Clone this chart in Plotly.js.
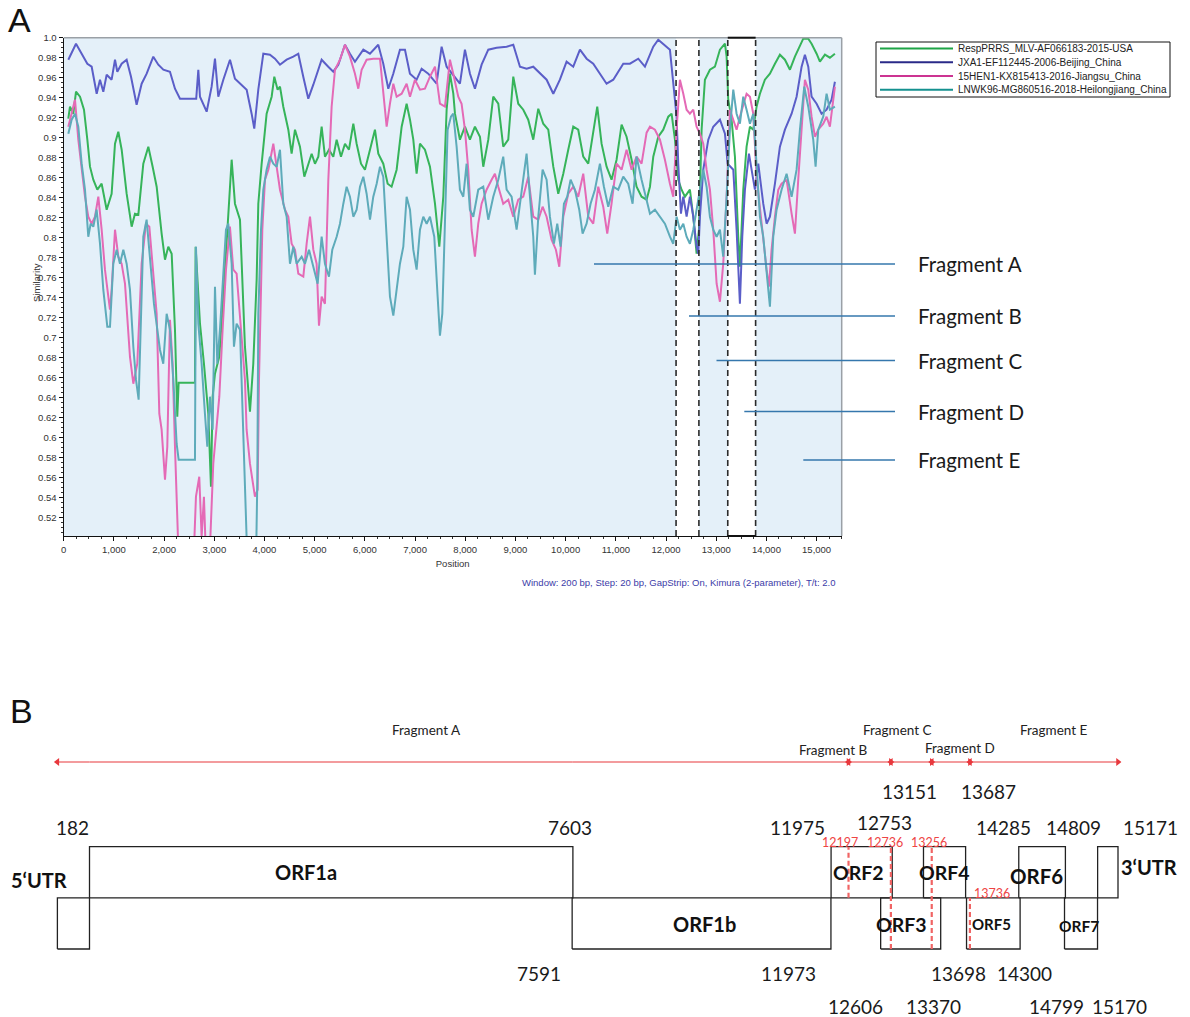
<!DOCTYPE html>
<html><head><meta charset="utf-8">
<script src="https://cdn.plot.ly/plotly-3.0.1.min.js"></script>
<style>html,body{margin:0;padding:0;background:#fff}#chart{width:1190px;height:1017px}</style>
</head><body><div id="chart"></div>
<script>
// ================= DATA =================
const seriesNames = ['RespPRRS_MLV-AF066183-2015-USA','JXA1-EF112445-2006-Beijing_China','15HEN1-KX815413-2016-Jiangsu_China','LNWK96-MG860516-2018-Heilongjiang_China'];

const respPos = [92,125,192,245,325,404,471,524,590,670,756,823,856,955,1022,1088,1155,1254,1354,1420,1487,1586,1686,1772,1852,1951,2018,2084,2151,2217,2237,2263,2290,2615,2628,2715,2794,2881,2934,2967,3014,3100,3180,3279,3346,3412,3512,3611,3711,3777,3844,3877,3944,4043,4143,4196,4262,4309,4375,4475,4541,4608,4707,4794,4873,4940,5006,5073,5139,5205,5285,5371,5438,5524,5604,5683,5770,5836,5923,6002,6102,6201,6268,6367,6454,6533,6633,6733,6832,6899,6965,7031,7098,7197,7297,7397,7483,7563,7629,7695,7762,7795,7894,7994,8093,8193,8293,8359,8459,8558,8658,8757,8857,8957,9056,9156,9255,9355,9455,9554,9654,9754,9853,9953,10052,10152,10251,10351,10451,10550,10630,10716,10816,10915,11015,11115,11214,11314,11413,11513,11613,11680,11746,11846,11945,12045,12111,12178,12244,12310,12377,12476,12543,12609,12656,12709,12775,12875,12974,13074,13174,13207,13240,13306,13373,13439,13472,13539,13605,13672,13738,13804,13871,13970,14070,14170,14269,14369,14469,14568,14668,14734,14834,14900,15000,15066,15166,15265,15365];
const respSim = [0.919,0.931,0.924,0.946,0.941,0.928,0.898,0.871,0.858,0.848,0.854,0.838,0.828,0.844,0.894,0.906,0.888,0.844,0.811,0.824,0.823,0.874,0.891,0.871,0.851,0.804,0.778,0.791,0.784,0.708,0.674,0.621,0.655,0.655,0.791,0.714,0.674,0.624,0.551,0.641,0.664,0.681,0.741,0.821,0.878,0.834,0.818,0.691,0.626,0.674,0.758,0.834,0.874,0.924,0.941,0.961,0.948,0.951,0.931,0.908,0.884,0.908,0.891,0.861,0.874,0.884,0.874,0.881,0.911,0.881,0.888,0.881,0.898,0.881,0.894,0.888,0.914,0.894,0.874,0.868,0.888,0.908,0.884,0.874,0.854,0.851,0.868,0.911,0.934,0.918,0.898,0.864,0.894,0.888,0.871,0.834,0.791,0.841,0.928,0.964,0.944,0.924,0.898,0.911,0.898,0.911,0.901,0.871,0.898,0.941,0.934,0.891,0.898,0.961,0.934,0.928,0.918,0.898,0.929,0.914,0.908,0.871,0.844,0.864,0.888,0.911,0.908,0.881,0.874,0.908,0.931,0.894,0.871,0.858,0.878,0.913,0.901,0.878,0.851,0.841,0.838,0.851,0.881,0.901,0.908,0.921,0.924,0.898,0.858,0.848,0.841,0.848,0.821,0.784,0.808,0.908,0.958,0.968,0.971,0.988,0.994,0.981,0.938,0.918,0.881,0.801,0.771,0.848,0.891,0.911,0.908,0.931,0.944,0.958,0.964,0.974,0.983,0.978,0.968,0.981,0.991,0.999,0.999,0.994,0.984,0.976,0.983,0.980,0.984];

const jxaPos = [92,245,358,471,557,657,723,789,856,955,1022,1068,1155,1254,1341,1453,1553,1653,1785,1885,1985,2117,2217,2317,2449,2640,2682,2715,2848,2947,3014,3080,3180,3313,3412,3512,3645,3744,3797,3877,3977,4109,4209,4309,4441,4574,4674,4773,4873,4973,5139,5271,5371,5471,5603,5703,5803,5969,6101,6267,6367,6467,6566,6699,6799,6898,7031,7131,7263,7429,7529,7629,7761,7894,7994,8094,8193,8326,8459,8625,8824,8957,9090,9222,9355,9488,9621,9754,9886,10019,10152,10285,10418,10550,10683,10816,10949,11148,11281,11447,11580,11746,11845,11945,12078,12177,12211,12244,12297,12344,12410,12476,12543,12609,12642,12676,12742,12842,12941,13074,13174,13227,13340,13406,13472,13519,13572,13652,13705,13771,13838,13937,14004,14070,14170,14269,14369,14502,14601,14701,14767,14834,14900,15000,15099,15199,15298,15365];
const jxaSim = [0.978,0.994,0.984,0.974,0.971,0.944,0.958,0.946,0.963,0.958,0.978,0.966,0.974,0.978,0.961,0.933,0.954,0.964,0.981,0.973,0.968,0.966,0.949,0.939,0.939,0.939,0.968,0.941,0.926,0.951,0.979,0.941,0.958,0.978,0.959,0.954,0.948,0.924,0.909,0.948,0.984,0.983,0.979,0.973,0.978,0.981,0.984,0.961,0.939,0.953,0.978,0.971,0.966,0.973,0.993,0.984,0.976,0.988,0.984,0.993,0.974,0.949,0.964,0.988,0.988,0.964,0.958,0.969,0.964,0.954,0.991,0.971,0.963,0.954,0.988,0.964,0.949,0.973,0.988,0.990,0.991,0.993,0.971,0.969,0.971,0.964,0.958,0.944,0.958,0.976,0.971,0.988,0.979,0.974,0.964,0.954,0.958,0.974,0.974,0.979,0.971,0.991,0.998,0.994,0.988,0.938,0.921,0.874,0.824,0.841,0.821,0.841,0.821,0.791,0.784,0.821,0.868,0.898,0.911,0.918,0.904,0.874,0.868,0.808,0.734,0.801,0.848,0.884,0.868,0.848,0.874,0.834,0.814,0.821,0.854,0.891,0.908,0.924,0.941,0.971,0.983,0.971,0.941,0.934,0.924,0.928,0.938,0.956];

const henPos = [92,158,225,291,358,424,490,557,623,690,756,822,889,922,955,1022,1088,1154,1221,1267,1320,1387,1466,1553,1639,1706,1772,1852,1905,1951,2018,2064,2117,2170,2217,2283,2383,2582,2635,2701,2748,2794,2834,2914,2980,3034,3100,3166,3233,3312,3379,3445,3512,3565,3611,3644,3711,3810,3864,3891,3931,3957,4010,4077,4176,4243,4309,4409,4475,4541,4608,4674,4774,4840,4907,4973,5039,5086,5139,5205,5239,5272,5338,5405,5504,5604,5703,5803,5869,5936,6035,6168,6301,6367,6434,6500,6567,6633,6733,6832,6899,6998,7098,7197,7297,7397,7496,7596,7695,7761,7861,7927,7994,8060,8127,8193,8259,8326,8425,8525,8591,8658,8757,8857,8957,9056,9156,9255,9355,9455,9541,9621,9720,9806,9873,9953,10052,10152,10251,10351,10451,10550,10650,10749,10829,10915,11015,11115,11214,11314,11413,11513,11613,11680,11779,11879,11978,12078,12144,12211,12277,12344,12410,12476,12543,12609,12676,12742,12808,12875,12941,13008,13074,13140,13207,13273,13340,13406,13472,13539,13605,13672,13738,13804,13871,13937,14004,14050,14103,14170,14236,14302,14402,14502,14568,14634,14701,14767,14834,14900,14967,15033,15132,15199,15265,15332,15365];
const henSim = [0.911,0.924,0.938,0.898,0.868,0.841,0.821,0.814,0.821,0.841,0.808,0.768,0.741,0.728,0.748,0.808,0.781,0.774,0.754,0.721,0.681,0.654,0.674,0.774,0.814,0.811,0.774,0.724,0.624,0.608,0.558,0.591,0.718,0.674,0.591,0.490,0.470,0.470,0.541,0.561,0.501,0.541,0.480,0.490,0.574,0.601,0.641,0.708,0.768,0.811,0.768,0.764,0.724,0.691,0.658,0.608,0.574,0.541,0.548,0.658,0.741,0.808,0.858,0.868,0.894,0.868,0.848,0.828,0.821,0.794,0.788,0.764,0.761,0.794,0.821,0.788,0.774,0.712,0.741,0.734,0.794,0.858,0.931,0.968,0.978,0.993,0.981,0.964,0.949,0.968,0.978,0.979,0.979,0.948,0.911,0.934,0.954,0.941,0.944,0.954,0.941,0.958,0.948,0.949,0.961,0.971,0.934,0.931,0.978,0.964,0.941,0.934,0.908,0.868,0.808,0.781,0.814,0.834,0.848,0.858,0.864,0.851,0.834,0.838,0.821,0.838,0.841,0.861,0.821,0.818,0.831,0.821,0.798,0.788,0.771,0.821,0.844,0.851,0.841,0.864,0.821,0.814,0.851,0.831,0.804,0.834,0.874,0.868,0.888,0.868,0.881,0.874,0.905,0.911,0.908,0.898,0.878,0.854,0.841,0.908,0.958,0.944,0.928,0.924,0.928,0.911,0.904,0.894,0.868,0.848,0.808,0.754,0.736,0.774,0.841,0.928,0.918,0.908,0.921,0.934,0.944,0.941,0.924,0.861,0.828,0.794,0.768,0.751,0.788,0.821,0.848,0.854,0.858,0.824,0.804,0.858,0.908,0.958,0.948,0.921,0.901,0.908,0.914,0.921,0.911,0.941,0.951];

const lnwPos = [92,158,225,291,358,424,490,537,590,656,723,789,869,922,988,1055,1121,1188,1254,1320,1387,1440,1493,1533,1586,1652,1732,1798,1865,1918,1984,2051,2117,2184,2250,2290,2615,2635,2682,2748,2814,2861,2914,2967,3014,3060,3113,3180,3233,3279,3346,3392,3445,3512,3565,3611,3644,3700,3830,3857,3877,3931,3977,4043,4110,4176,4243,4309,4375,4442,4508,4575,4641,4741,4807,4887,4973,5059,5139,5205,5285,5351,5438,5504,5571,5637,5703,5770,5836,5903,5969,6035,6102,6168,6235,6301,6367,6434,6500,6567,6633,6699,6766,6832,6899,6965,7031,7098,7164,7231,7297,7383,7450,7496,7543,7596,7649,7715,7761,7828,7894,7961,8027,8093,8160,8259,8359,8459,8558,8658,8757,8824,8923,9023,9123,9222,9289,9355,9388,9455,9541,9621,9687,9767,9833,9899,9966,10032,10099,10185,10271,10338,10417,10497,10583,10683,10763,10849,10948,11048,11148,11247,11334,11413,11513,11613,11680,11779,11879,11978,12078,12144,12211,12277,12344,12410,12476,12543,12609,12676,12742,12808,12875,12941,13008,13074,13140,13207,13273,13340,13406,13472,13539,13605,13672,13738,13804,13871,13937,14004,14070,14136,14203,14302,14402,14502,14601,14668,14754,14834,14933,14980,15033,15132,15199,15265,15365];
const lnwSim = [0.904,0.918,0.924,0.911,0.874,0.848,0.801,0.814,0.811,0.828,0.794,0.748,0.711,0.711,0.774,0.788,0.774,0.788,0.774,0.748,0.691,0.658,0.638,0.708,0.801,0.818,0.774,0.734,0.708,0.688,0.674,0.724,0.708,0.658,0.594,0.578,0.578,0.791,0.714,0.674,0.624,0.591,0.641,0.608,0.751,0.674,0.708,0.758,0.808,0.814,0.774,0.691,0.714,0.708,0.621,0.558,0.500,0.470,0.470,0.556,0.724,0.808,0.848,0.868,0.881,0.874,0.871,0.888,0.834,0.821,0.774,0.791,0.774,0.781,0.774,0.788,0.771,0.754,0.801,0.774,0.761,0.788,0.801,0.814,0.834,0.851,0.841,0.821,0.828,0.851,0.861,0.844,0.818,0.841,0.854,0.871,0.861,0.794,0.741,0.722,0.751,0.774,0.791,0.841,0.828,0.788,0.768,0.808,0.821,0.814,0.821,0.801,0.741,0.702,0.724,0.808,0.908,0.921,0.924,0.891,0.848,0.841,0.874,0.828,0.821,0.848,0.851,0.818,0.841,0.858,0.881,0.848,0.841,0.808,0.848,0.884,0.841,0.801,0.763,0.821,0.868,0.858,0.821,0.794,0.814,0.791,0.834,0.841,0.858,0.848,0.828,0.804,0.814,0.834,0.848,0.874,0.851,0.831,0.851,0.848,0.861,0.854,0.834,0.881,0.858,0.838,0.824,0.828,0.821,0.814,0.801,0.794,0.821,0.808,0.814,0.801,0.794,0.808,0.828,0.848,0.868,0.851,0.821,0.808,0.801,0.808,0.781,0.841,0.908,0.948,0.924,0.914,0.941,0.928,0.914,0.924,0.868,0.821,0.801,0.768,0.731,0.801,0.828,0.848,0.864,0.841,0.868,0.908,0.951,0.931,0.898,0.871,0.908,0.921,0.944,0.928,0.931];

const xTickVals = [0,1000,2000,3000,4000,5000,6000,7000,8000,9000,10000,11000,12000,13000,14000,15000];
const yTickVals = [0.52,0.54,0.56,0.58,0.60,0.62,0.64,0.66,0.68,0.70,0.72,0.74,0.76,0.78,0.80,0.82,0.84,0.86,0.88,0.90,0.92,0.94,0.96,0.98,1.0];
const yTickText = ['0.52','0.54','0.56','0.58','0.6','0.62','0.64','0.66','0.68','0.7','0.72','0.74','0.76','0.78','0.8','0.82','0.84','0.86','0.88','0.9','0.92','0.94','0.96','0.98','1.0'];
const statsText = 'Window: 200 bp, Step: 20 bp, GapStrip: On, Kimura (2-parameter), T/t: 2.0';

// highlighted windows in panel A (positions, bp)
const highlightStart = [12200, 13230];
const highlightEnd   = [12655, 13785];

// genome map (panel B)
const genomeEnd = 15400;
const orfNames = ['ORF1a','ORF1b','ORF2','ORF3','ORF4','ORF5','ORF6','ORF7'];
const orfStart = [182, 7591, 11975, 12606, 13151, 13698, 14285, 14799];
const orfEnd   = [7603, 11973, 12753, 13370, 13687, 14300, 14809, 15170];
const orfRow   = [1, 0, 1, 0, 1, 0, 1, 0];
const utrNames = ['5‘UTR', '3‘UTR'];
const utrStart = [1, 15171];
const utrEnd   = [182, genomeEnd];
const utrRow   = [0, 1];
const fragmentNames = ['Fragment A','Fragment B','Fragment C','Fragment D','Fragment E'];
const fragmentStart = [1, 12197, 12736, 13256, 13736];
const fragmentEnd   = [12197, 12736, 13256, 13736, genomeEnd];
const breakpoints   = [12197, 12736, 13256, 13736];

// ================= STYLE / LAYOUT =================
const W = 1190, H = 1017;
const X = p => p / W, Y = p => 1 - p / H;
const AR = '"Liberation Sans", Arial, sans-serif';
const CAL = 'Lato, "Open Sans", sans-serif';
const lineColors   = ['#36b45a', '#5b5ec8', '#e46ab6', '#5eabba'];
const legendColors = ['#1ea447', '#2a2a88', '#cc3492', '#14918f'];
const highlightClosed = [false, true];

const posArr = [respPos, jxaPos, henPos, lnwPos];
const simArr = [respSim, jxaSim, henSim, lnwSim];

const traces = [];
const shapes = [];
const annotations = [];

seriesNames.forEach((n, i) => {
  traces.push({type:'scatter', mode:'lines', name:n, x:posArr[i], y:simArr[i],
    xaxis:'x', yaxis:'y', line:{color:lineColors[i], width:2}, hoverinfo:'skip', showlegend:false});
});

// panel A background and windows
shapes.push({type:'rect', xref:'x domain', yref:'y domain', x0:0, x1:1, y0:0, y1:1, fillcolor:'#e4f0f9', line:{width:0}, layer:'below'});
highlightStart.forEach((s, i) => {
  shapes.push({type:'rect', xref:'x', yref:'y domain', x0:s, x1:highlightEnd[i], y0:0, y1:1, fillcolor:'#ffffff', line:{width:0}, layer:'below'});
});
shapes.push({type:'line', xref:'x domain', yref:'y domain', x0:0, x1:1, y0:1, y1:1, line:{color:'#9aa0a6', width:1.5}});
shapes.push({type:'line', xref:'x domain', yref:'y domain', x0:1, x1:1, y0:0, y1:1, line:{color:'#9aa0a6', width:1.5}});
highlightStart.forEach((s, i) => {
  [s, highlightEnd[i]].forEach(v => shapes.push({type:'line', xref:'x', yref:'y domain', x0:v, x1:v, y0:0, y1:1,
    line:{color:'#2a2a2a', width:1.6, dash:'6px,4px'}}));
  if (highlightClosed[i]) {
    [0, 1].forEach(v => shapes.push({type:'line', xref:'x', yref:'y domain', x0:s, x1:highlightEnd[i], y0:v, y1:v,
      line:{color:'#111', width:2}}));
  }
});

// fragment leaders (panel A)
const leaderStartPx = [594, 689, 716.5, 744.3, 803.3];
const leaderYPx     = [264, 316, 360.5, 411.5, 460];
fragmentNames.forEach((n, i) => {
  shapes.push({type:'line', xref:'paper', yref:'paper', x0:X(leaderStartPx[i]), x1:X(895), y0:Y(leaderYPx[i]), y1:Y(leaderYPx[i]),
    line:{color:'#3577ad', width:1.3}});
  annotations.push({xref:'paper', yref:'paper', x:X(916), y:Y(leaderYPx[i]), xanchor:'left', yanchor:'middle', showarrow:false,
    text:n, font:{family:CAL, size:20.5, color:'#1a1a1a'}});
});

// custom legend
shapes.push({type:'rect', xref:'paper', yref:'paper', x0:X(876), x1:X(1170), y0:Y(97), y1:Y(42), line:{color:'#111', width:1}, fillcolor:'rgba(255,255,255,0)'});
seriesNames.forEach((n, i) => {
  const yy = 48.6 + i * 13.7;
  shapes.push({type:'line', xref:'paper', yref:'paper', x0:X(880), x1:X(953), y0:Y(yy), y1:Y(yy), line:{color:legendColors[i], width:2}});
  annotations.push({xref:'paper', yref:'paper', x:X(956), y:Y(yy), xanchor:'left', yanchor:'middle', showarrow:false,
    text:n, font:{family:AR, size:10, color:'#222'}});
});

// panel A titles
annotations.push({xref:'paper', yref:'paper', x:X(36), y:Y(283), textangle:-90, showarrow:false, text:'Similarity',
  font:{family:AR, size:9.5, color:'#333'}, xanchor:'center', yanchor:'middle'});
annotations.push({xref:'paper', yref:'paper', x:X(837), y:Y(582), xanchor:'right', yanchor:'middle', showarrow:false, text:statsText,
  font:{family:AR, size:9.5, color:'#3c3ca8'}});
annotations.push({xref:'paper', yref:'paper', x:X(6), y:Y(20), xanchor:'left', yanchor:'middle', showarrow:false, text:'A',
  font:{family:AR, size:34, color:'#111'}});
annotations.push({xref:'paper', yref:'paper', x:X(8), y:Y(711), xanchor:'left', yanchor:'middle', showarrow:false, text:'B',
  font:{family:AR, size:34, color:'#111'}});

const layout = {
  width:W, height:H, margin:{l:0, r:0, t:0, b:0}, paper_bgcolor:'#ffffff', plot_bgcolor:'rgba(0,0,0,0)',
  showlegend:false, hovermode:false,
  xaxis:{domain:[X(63.7), X(841.7)], range:[0, 15500], anchor:'y', tickmode:'array', tickvals:xTickVals, tickformat:',d',
    showline:true, linecolor:'#111', linewidth:1.2, ticks:'outside', ticklen:4, tickcolor:'#111', showgrid:false, zeroline:false,
    tickfont:{family:AR, size:9.5, color:'#333'},
    minor:{ticks:'outside', ticklen:2, tickcolor:'#333', tickmode:'linear', tick0:0, dtick:250, showgrid:false},
    title:{text:'Position', font:{family:AR, size:9.5, color:'#333'}, standoff:6}, fixedrange:true},
  yaxis:{domain:[Y(536), Y(37.7)], range:[0.5017, 1.0], anchor:'x', tickmode:'array', tickvals:yTickVals, ticktext:yTickText,
    showline:true, linecolor:'#111', linewidth:1.2, ticks:'outside', ticklen:4, tickcolor:'#111', showgrid:false, zeroline:false,
    tickfont:{family:AR, size:9.5, color:'#333'},
    minor:{ticks:'outside', ticklen:2, tickcolor:'#333', tickmode:'linear', tick0:0.5, dtick:0.005, showgrid:false}, fixedrange:true},
  shapes:shapes, annotations:annotations
};

// ---- panel B: broken (schematic) genome axis made of linear segments ----
const segBreaks = [1, 182, 7597, 11974, 13692, genomeEnd];
const segPx     = [57.4, 89.5, 572.5, 831, 966, 1118];
const PAD = 40;
const NSEG = segBreaks.length - 1;
for (let s = 0; s < NSEG; s++) {
  const g0 = segBreaks[s], g1 = segBreaks[s+1], p0 = segPx[s], p1 = segPx[s+1];
  const k = (p1 - p0) / (g1 - g0);
  layout['xaxis' + (s + 2)] = {domain:[X(p0 - k*PAD), X(p1 + k*PAD)], range:[g0 - PAD, g1 + PAD],
    visible:false, anchor:'y2', fixedrange:true};
}
// y2: row units (0..1 lower row, 1..2 upper row); 51.15 px per row, row 0 bottom at 949px
const rowPx = 51.15, rowBase = 949;
layout.yaxis2 = {domain:[0, Y(700)], range:[(rowBase - 1017)/rowPx, (rowBase - 700)/rowPx], visible:false, anchor:'x2', fixedrange:true};
const arrowLevel = (rowBase - 762) / rowPx;

const segOf = g => { for (let s = 0; s < NSEG; s++) if (g <= segBreaks[s+1]) return s; return NSEG - 1; };
const axOf = s => 'x' + (s + 2);
const axFor = g => axOf(segOf(g));

// boxes
const allNames = orfNames.concat(utrNames), allStart = orfStart.concat(utrStart), allEnd = orfEnd.concat(utrEnd), allRow = orfRow.concat(utrRow);
allNames.forEach((n, i) => {
  const s = allStart[i], e = allEnd[i], r = allRow[i];
  traces.push({type:'scatter', mode:'lines', x:[s, e, e, s, s], y:[r, r, r+1, r+1, r], xaxis:axFor((s+e)/2), yaxis:'y2',
    line:{color:'#222', width:1.3}, hoverinfo:'skip', showlegend:false});
});

// rows (of the ORFs) that contain a breakpoint
const rowsAt = bp => { const rows = []; orfNames.forEach((n, i) => { if (orfStart[i] <= bp && bp <= orfEnd[i]) rows.push(orfRow[i]); }); return rows; };

// breakpoint dashed lines
breakpoints.forEach(bp => {
  const rows = rowsAt(bp);
  const lo = Math.min(...rows), hi = Math.max(...rows) + 1;
  traces.push({type:'scatter', mode:'lines', x:[bp, bp], y:[lo, hi], xaxis:axFor(bp), yaxis:'y2',
    line:{color:'#f06464', width:2.2, dash:'5px,3px'}, hoverinfo:'skip', showlegend:false});
});

// fragment arrows
const arrowColor = '#e8383d';
fragmentNames.forEach((n, i) => {
  const a = fragmentStart[i], b = fragmentEnd[i];
  for (let s = 0; s < NSEG; s++) {
    const lo = Math.max(a, segBreaks[s]), hi = Math.min(b, segBreaks[s+1]);
    if (hi > lo) traces.push({type:'scatter', mode:'lines', x:[lo, hi], y:[arrowLevel, arrowLevel], xaxis:axOf(s), yaxis:'y2',
      line:{color:arrowColor, width:1.2}, hoverinfo:'skip', showlegend:false});
  }
  traces.push({type:'scatter', mode:'markers', x:[a], y:[arrowLevel], xaxis:axFor(a), yaxis:'y2',
    marker:{symbol:'triangle-left', size:7, color:arrowColor}, hoverinfo:'skip', showlegend:false});
  traces.push({type:'scatter', mode:'markers', x:[b], y:[arrowLevel], xaxis:axFor(b), yaxis:'y2',
    marker:{symbol:'triangle-right', size:7, color:arrowColor}, hoverinfo:'skip', showlegend:false});
});

// --- panel B labels ---
const numFont = {family:CAL, size:19, color:'#1a1a1a'};
const orfLabelTier = [1, 1, 1, 2, 2, 1, 1, 2];
const tierPxUpper = {1:827.5, 2:791.7};
const tierPxLower = {1:973.5, 2:1006};
const startShift = [-17.5, -33, -34, -24.7, -13.5, -8.5, -14.8, -8.5];
const endShift   = [-2.9, -42, -8.2, -6.7, 22.4, 3.9, 7.6, 21.5];
const endDy      = [0, 0, 5, 0, 0, 0, 0, 0];
const orfNameShift = [-24.7, 2.5, -2.7, -9.3, 0, -1.8, -5.5, -2.5];
const orfNameDy    = [0, -1, 0, -1.5, 0, -1, -4, -3];
const orfNameSize  = [20, 20, 19.5, 19.5, 19.5, 15, 20.5, 15.5];
orfNames.forEach((n, i) => {
  const ax = axFor((orfStart[i] + orfEnd[i]) / 2);
  const ypx = orfRow[i] === 1 ? tierPxUpper[orfLabelTier[i]] : tierPxLower[orfLabelTier[i]];
  annotations.push({xref:ax, yref:'paper', x:orfStart[i], y:Y(ypx), xshift:startShift[i], showarrow:false, text:String(orfStart[i]), font:numFont, xanchor:'center', yanchor:'middle'});
  annotations.push({xref:ax, yref:'paper', x:orfEnd[i], y:Y(ypx), xshift:endShift[i], yshift:endDy[i], showarrow:false, text:String(orfEnd[i]), font:numFont, xanchor:'center', yanchor:'middle'});
  annotations.push({xref:ax, yref:'y2', x:(orfStart[i] + orfEnd[i]) / 2, y:orfRow[i] + 0.5, xshift:orfNameShift[i], yshift:orfNameDy[i],
    showarrow:false, text:'<b>' + n + '</b>', font:{family:CAL, size:orfNameSize[i], color:'#111'}, xanchor:'center', yanchor:'middle'});
});
// 3'UTR start label
annotations.push({xref:axFor(utrStart[1]), yref:'paper', x:utrStart[1], y:Y(827.5), xshift:52.4, showarrow:false, text:String(utrStart[1]),
  font:numFont, xanchor:'center', yanchor:'middle'});
// UTR names
annotations.push({xref:axFor(utrStart[0]), yref:'paper', x:utrStart[0], y:Y(880), xshift:-18.4, showarrow:false,
  text:'<b>' + utrNames[0] + '</b>', font:{family:CAL, size:20, color:'#111'}, xanchor:'center', yanchor:'middle'});
annotations.push({xref:axFor(utrEnd[1]), yref:'paper', x:utrEnd[1], y:Y(866.7), xshift:30.5, showarrow:false,
  text:'<b>' + utrNames[1] + '</b>', font:{family:CAL, size:20, color:'#111'}, xanchor:'center', yanchor:'middle'});
// breakpoint labels
const bpShift = [-8.5, -6.3, -2.7, 21.8];
breakpoints.forEach((bp, i) => {
  const hi = Math.max(...rowsAt(bp)) + 1;
  annotations.push({xref:axFor(bp), yref:'y2', x:bp, y:hi, xshift:bpShift[i], yshift:4, showarrow:false, text:String(bp),
    font:{family:CAL, size:12.5, color:'#ee4444'}, xanchor:'center', yanchor:'middle'});
});
// fragment names
const fragShift = [-48, -36, -14, 9, 10];
const fragYPx   = [730, 750, 730, 747.5, 730];
fragmentNames.forEach((n, i) => {
  const mid = (fragmentStart[i] + fragmentEnd[i]) / 2;
  annotations.push({xref:axFor(mid), yref:'paper', x:mid, y:Y(fragYPx[i]), xshift:fragShift[i], showarrow:false, text:n,
    font:{family:CAL, size:13.5, color:'#222'}, xanchor:'center', yanchor:'middle'});
});

Plotly.newPlot('chart', traces, layout, {staticPlot:true, displayModeBar:false});
</script>
</body></html>
